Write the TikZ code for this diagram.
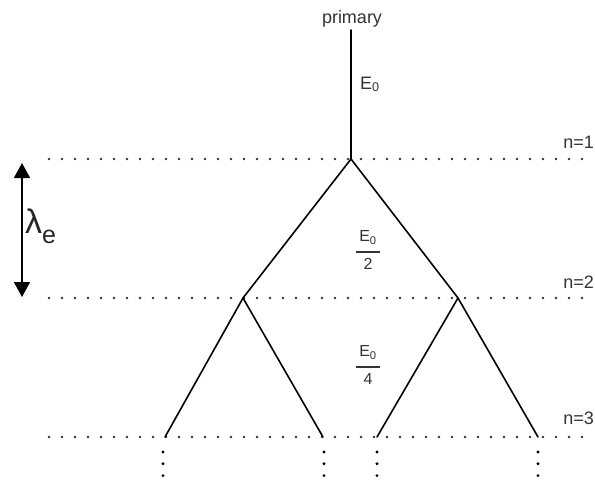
\documentclass[tikz,border=0pt]{standalone}
\usepackage{fontspec}
\setmainfont{Liberation Sans}
\usetikzlibrary{arrows.meta}
\begin{document}
\begin{tikzpicture}[x=1pt,y=-1pt,
  branch/.style={line width=1.6pt, line cap=round},
  level/.style={line width=2.6pt, line cap=round, dash pattern=on 0pt off 13pt, black!80},
  vdots/.style={line width=3.2pt, line cap=round, dash pattern=on 0pt off 11.8pt},
  lbl/.style={inner sep=0pt, font=\fontsize{18}{20}\selectfont, text=black!80},
  frac/.style={inner sep=0pt, align=center, font=\fontsize{16}{16}\selectfont, text=black!80}]
\useasboundingbox (0,0) rectangle (595,482);
% level lines
\coordinate (l1a) at (49,159); \coordinate (l1b) at (595,159);
\coordinate (l2a) at (49,298); \coordinate (l2b) at (595,298);
\coordinate (l3a) at (49,437); \coordinate (l3b) at (595,437);
\draw[level] (l1a) -- (l1b);
\draw[level] (l2a) -- (l2b);
\draw[level] (l3a) -- (l3b);
% tree
\coordinate (top) at (351,30);
\coordinate (n0) at (351,159);
\coordinate (a) at (243,298);
\coordinate (b) at (458,298);
\coordinate (a1) at (165,437);
\coordinate (a2) at (323,437);
\coordinate (b1) at (377,437);
\coordinate (b2) at (538,437);
\draw[branch] (top) -- (n0);
\draw[branch] (n0) -- (a);
\draw[branch] (n0) -- (b);
\draw[branch] (a) -- (a1);
\draw[branch] (a) -- (a2);
\draw[branch] (b) -- (b1);
\draw[branch] (b) -- (b2);
% continuation dots
\coordinate (d1) at (163,452); \coordinate (d1e) at (163,477);
\coordinate (d2) at (324,452); \coordinate (d2e) at (324,477);
\coordinate (d3) at (377,452); \coordinate (d3e) at (377,477);
\coordinate (d4) at (538,452); \coordinate (d4e) at (538,477);
\draw[vdots] (d1) -- (d1e);
\draw[vdots] (d2) -- (d2e);
\draw[vdots] (d3) -- (d3e);
\draw[vdots] (d4) -- (d4e);
% labels
\node[lbl, anchor=base] (primary) at (352,23) {primary};
\node[lbl, anchor=base west] (e0) at (360,89) {E\textsubscript{0}};
\node[lbl, anchor=base east] (n1) at (594,148) {n=1};
\node[lbl, anchor=base east] (n2) at (594,288) {n=2};
\node[lbl, anchor=base east] (n3) at (594,424) {n=3};
\node[frac] (f2) at (368,250) {E\textsubscript{0}\\[-5pt]\rule{24pt}{1.4pt}\\[1pt]2};
\node[frac] (f4) at (368,365) {E\textsubscript{0}\\[-5pt]\rule{24pt}{1.4pt}\\[1pt]4};
% lambda arrow
\coordinate (ar1) at (22,163);
\coordinate (ar2) at (22,297);
\draw[line width=1.5pt, {Triangle[width=16pt,length=15pt]}-{Triangle[width=16pt,length=15pt]}] (ar1) -- (ar2);
\node[inner sep=0pt, anchor=base west, text=black!85] (lam) at (25,233)
  {\fontsize{34}{36}\selectfont λ\raisebox{-10pt}{\fontsize{25}{28}\selectfont e}};
\end{tikzpicture}
\end{document}
